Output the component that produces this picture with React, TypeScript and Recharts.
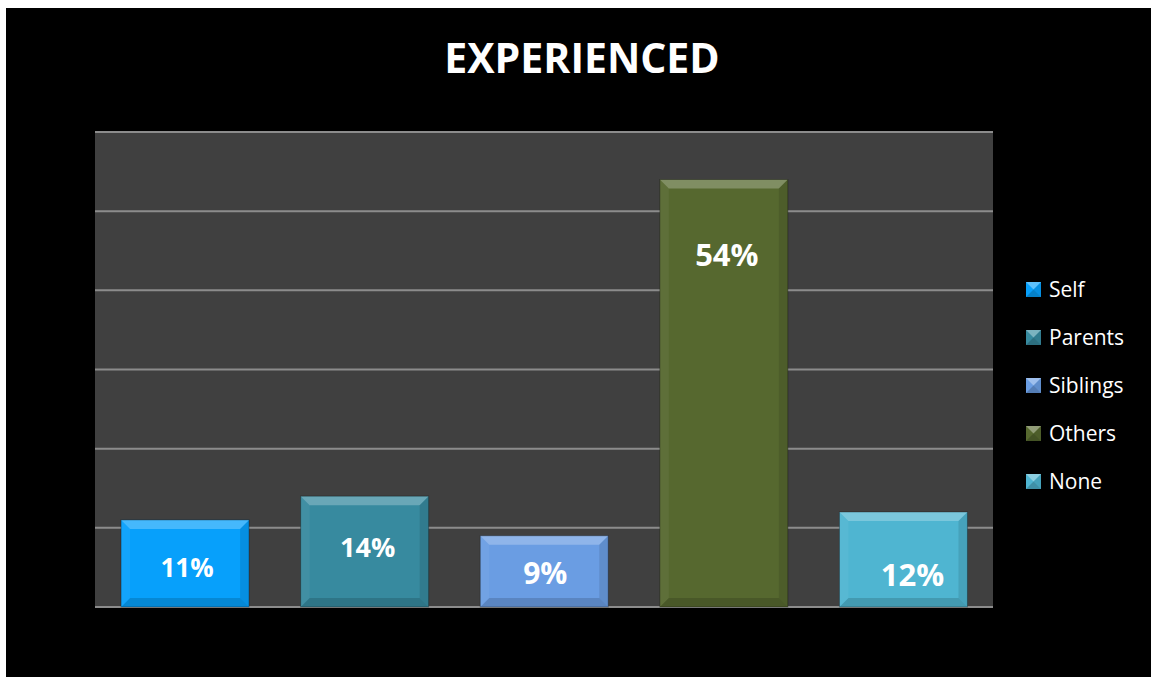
import { BarChart, Bar, Cell, XAxis, YAxis, CartesianGrid, LabelList } from 'recharts'

const categories = ['Self', 'Parents', 'Siblings', 'Others', 'None']
const shares = [11, 14, 9, 54, 12]
const yTicks = [0, 10, 20, 30, 40, 50, 60]

const colors = ['#07a0fb', '#378a9f', '#6a9de3', '#56682f', '#4fb5d1']
// Excel placed the labels by hand, so nudge each one a bit
const labelNudge = [
  { dx: 2, dy: 4, size: 26 },
  { dx: 3, dy: -5, size: 27 },
  { dx: 1, dy: 1, size: 30 },
  { dx: 3, dy: -139, size: 31 },
  { dx: 9, dy: 14, size: 31 },
]

const data = categories.map((name, i) => ({ name, value: shares[i] }))

const FONT = '"Open Sans", "Noto Sans", sans-serif'

function BevelBar(props: any) {
  const { x, y, width, height, fill } = props
  if (!height || height <= 0) return null
  const b = Math.min(9, height / 3)
  const r = x + width
  const btm = y + height
  return (
    <g>
      <rect x={x} y={y} width={width} height={height} fill={fill} />
      <polygon points={`${x},${y} ${r},${y} ${r - b},${y + b} ${x + b},${y + b}`} fill="#ffffff" fillOpacity={0.25} />
      <polygon points={`${x},${btm} ${r},${btm} ${r - b},${btm - b} ${x + b},${btm - b}`} fill="#000000" fillOpacity={0.15} />
      <polygon points={`${x},${y} ${x + b},${y + b} ${x + b},${btm - b} ${x},${btm}`} fill="#ffffff" fillOpacity={0.05} />
      <polygon points={`${r},${y} ${r - b},${y + b} ${r - b},${btm - b} ${r},${btm}`} fill="#000000" fillOpacity={0.1} />
      <rect x={x} y={y} width={width} height={height} fill="none" stroke="#000000" strokeOpacity={0.3} strokeWidth={1} />
    </g>
  )
}

function ShareLabel(props: any) {
  const { x, y, width, height, value, index } = props
  const n = labelNudge[index] || { dx: 0, dy: 0, size: 28 }
  return (
    <text
      x={x + width / 2 + n.dx}
      y={y + height / 2 + n.dy}
      fill="#ffffff"
      fontFamily={FONT}
      fontWeight={700}
      fontSize={n.size}
      textAnchor="middle"
      dominantBaseline="central"
    >
      {`${value}%`}
    </text>
  )
}

function LegendIcon({ color }: { color: string }) {
  return (
    <svg width={15} height={15} style={{ display: 'block' }}>
      <rect x={0} y={0} width={15} height={15} fill={color} />
      <polygon points="0,0 15,0 7.5,7.5" fill="#ffffff" fillOpacity={0.35} />
      <polygon points="0,15 15,15 7.5,7.5" fill="#000000" fillOpacity={0.2} />
      <polygon points="15,0 15,15 7.5,7.5" fill="#000000" fillOpacity={0.1} />
    </svg>
  )
}

export default function App() {
  return (
    <div style={{ position: 'fixed', left: 6, top: 8, width: 1145, height: 669, background: '#000000', overflow: 'hidden' }}>
      <div
        style={{
          position: 'absolute',
          left: 0,
          width: 1152,
          top: 25,
          textAlign: 'center',
          color: '#ffffff',
          fontFamily: FONT,
          fontWeight: 700,
          fontSize: 41,
          lineHeight: '48px',
        }}
      >
        EXPERIENCED
      </div>
      <BarChart
        width={1145}
        height={669}
        data={data}
        margin={{ top: 124, right: 158, bottom: 70, left: 89 }}
        barCategoryGap="14.5%"
      >
        <CartesianGrid vertical={false} fill="#404040" stroke="#8c8c8c" strokeWidth={2} />
        <XAxis dataKey="name" hide />
        <YAxis hide domain={[0, 60]} ticks={yTicks} width={0} />
        <Bar dataKey="value" shape={<BevelBar />} isAnimationActive={false}>
          {data.map((d, i) => (
            <Cell key={d.name} fill={colors[i]} />
          ))}
          <LabelList dataKey="value" content={<ShareLabel />} />
        </Bar>
      </BarChart>
      <div style={{ position: 'absolute', left: 1020, top: 257 }}>
        {categories.map((name, i) => (
          <div key={name} style={{ display: 'flex', alignItems: 'center', height: 48 }}>
            <LegendIcon color={colors[i]} />
            <span
              style={{
                marginLeft: 8,
                color: '#ffffff',
                fontFamily: FONT,
                fontSize: 21,
              }}
            >
              {name}
            </span>
          </div>
        ))}
      </div>
    </div>
  )
}
